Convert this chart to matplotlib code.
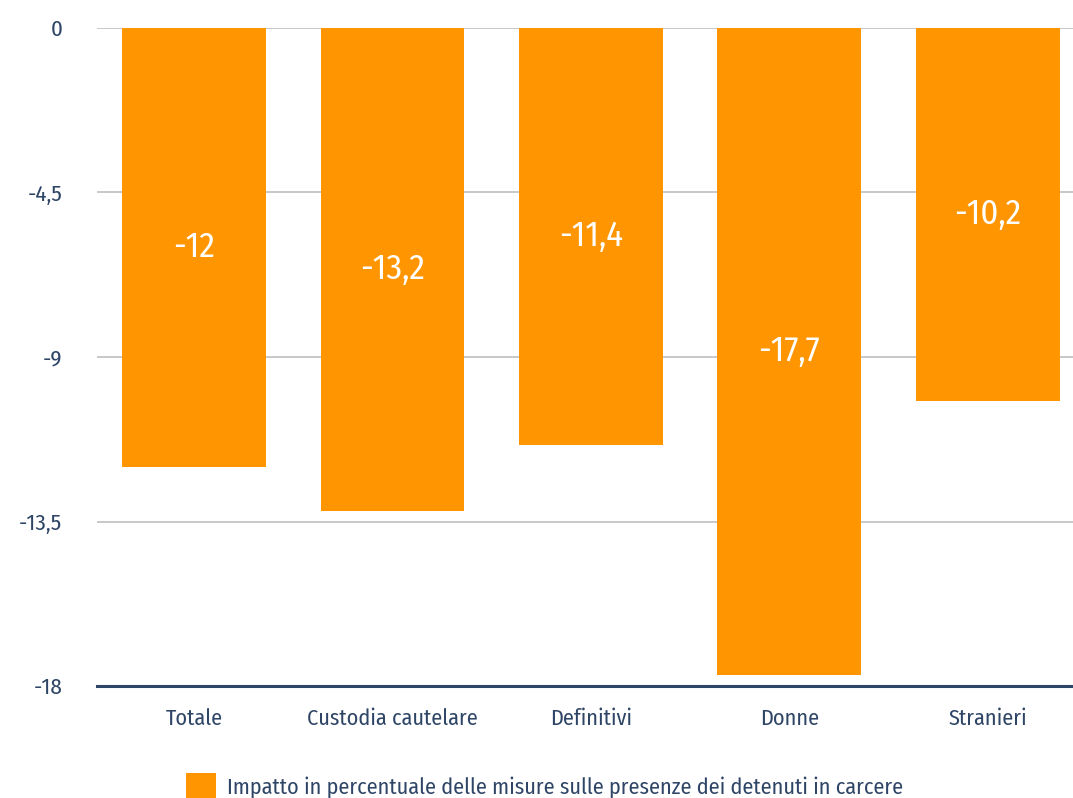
import matplotlib
matplotlib.use("Agg")
import matplotlib.pyplot as plt
from matplotlib.patches import Patch

categories = ["Totale", "Custodia cautelare", "Definitivi", "Donne", "Stranieri"]
values = [-12.0, -13.2, -11.4, -17.7, -10.2]
value_labels = ["-12", "-13,2", "-11,4", "-17,7", "-10,2"]
y_ticks = [0, -4.5, -9, -13.5, -18]
y_tick_labels = ["0", "-4,5", "-9", "-13,5", "-18"]
series_name = "Impatto in percentuale delle misure sulle presenze dei detenuti in carcere"

plt.rcParams["font.family"] = ["Fira Sans Condensed", "DejaVu Sans"]

ORANGE = "#FF9500"
NAVY = "#2E4566"

fig = plt.figure(figsize=(10.73, 7.98), dpi=100)
ax = fig.add_axes([97 / 1073, 1 - 686 / 798, 1 - 97 / 1073, (686 - 28) / 798])

x = range(len(categories))
bars = ax.bar(x, values, width=0.725, color=ORANGE, zorder=2)
for b, v, lab in zip(bars, values, value_labels):
    ax.text(b.get_x() + b.get_width() / 2, v / 2, lab, ha="center", va="center",
            color="white", fontsize=25, zorder=3)

ax.set_ylim(-18, 0)
ax.set_xlim(-0.49, 4.43)
ax.set_yticks(y_ticks)
ax.set_yticklabels(y_tick_labels, fontsize=16.5, color=NAVY)
ax.set_xticks(list(x))
ax.set_xticklabels(categories, fontsize=16, color=NAVY)
ax.tick_params(axis="y", length=0, pad=25)
ax.tick_params(axis="x", length=0, pad=16)

ax.grid(axis="y", color="#BFBFBF", linewidth=1.2, zorder=1)
ax.set_axisbelow(True)
for s in ["top", "right", "left"]:
    ax.spines[s].set_visible(False)
ax.spines["bottom"].set_color(NAVY)
ax.spines["bottom"].set_linewidth(2.2)
ax.spines["bottom"].set_zorder(4)

handle = Patch(facecolor=ORANGE, edgecolor="none")
fig.legend([handle], [series_name], loc="center left",
           bbox_to_anchor=(186 / 1073, 1 - 786 / 798), frameon=False,
           fontsize=16, labelcolor=NAVY, handlelength=1.35, handleheight=1.4,
           handletextpad=0.5, borderpad=0, borderaxespad=0)

fig.savefig("out.png", dpi=100)
